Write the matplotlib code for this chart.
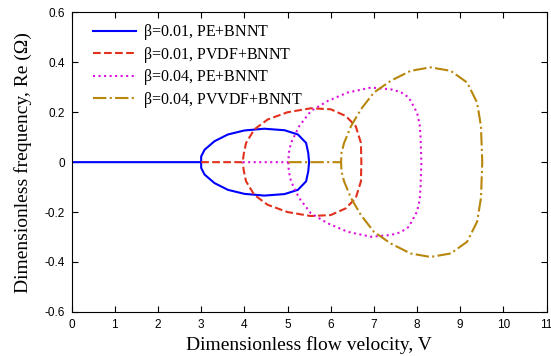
import numpy as np
import matplotlib
matplotlib.use('Agg')
import matplotlib.pyplot as plt

# upper branch of each loop (lower branch is the mirror image)
pe1_x = [3.0, 3.0, 3.08, 3.31, 3.62, 4.0, 4.46, 4.93, 5.24, 5.43, 5.48, 5.5]
pe1_y = [0.0, 0.023, 0.05, 0.084, 0.111, 0.127, 0.134, 0.128, 0.111, 0.077, 0.037, 0.0]

pvdf1_x = [3.96, 3.99, 4.04, 4.23, 4.54, 5.0, 5.54, 6.0, 6.35, 6.58, 6.7, 6.71]
pvdf1_y = [0.0, 0.037, 0.077, 0.131, 0.171, 0.2, 0.216, 0.212, 0.185, 0.144, 0.077, 0.0]

pe4_x = [5.02, 5.03, 5.08, 5.27, 5.54, 5.93, 6.39, 6.93, 7.39, 7.62, 7.81, 8.0, 8.06, 8.08, 8.1]
pe4_y = [0.0, 0.037, 0.077, 0.144, 0.205, 0.245, 0.279, 0.299, 0.292, 0.281, 0.259, 0.198, 0.151, 0.104, 0.0]

pvvdf4_x = [6.24, 6.25, 6.31, 6.47, 6.7, 7.0, 7.39, 7.85, 8.31, 8.78, 9.16, 9.39, 9.48, 9.51]
pvvdf4_y = [0.0, 0.037, 0.077, 0.144, 0.212, 0.279, 0.326, 0.366, 0.38, 0.366, 0.319, 0.239, 0.144, 0.0]

# where the zero-frequency part of each curve starts
zero_start = [0.0, 3.0, 3.96, 5.02]

labels = [r'$\beta$=0.01, PE+BNNT', r'$\beta$=0.01, PVDF+BNNT',
          r'$\beta$=0.04, PE+BNNT', r'$\beta$=0.04, PVVDF+BNNT']
colors = ['#0000ff', '#e2311d', '#dd11dd', '#b8860b']
styles = ['-', '--', ':', '-.']

plt.rcParams['font.family'] = 'Liberation Serif'
plt.rcParams['mathtext.fontset'] = 'custom'
plt.rcParams['mathtext.rm'] = 'Liberation Serif'
plt.rcParams['mathtext.it'] = 'Liberation Serif'

fig = plt.figure(figsize=(5.51, 3.56), dpi=100)
ax = fig.add_axes([0.13, 0.124, 0.862, 0.841])

series = [(pe1_x, pe1_y), (pvdf1_x, pvdf1_y), (pe4_x, pe4_y), (pvvdf4_x, pvvdf4_y)]
for i, (xs, ys) in enumerate(series):
    xs = np.array(xs)
    ys = np.array(ys)
    px = np.concatenate([[zero_start[i]], xs, xs[::-1]])
    py = np.concatenate([[0.0], ys, -ys[::-1]])
    ax.plot(px, py, styles[i], color=colors[i], lw=1.5, label=labels[i])

ax.set_xlim(0, 11)
ax.set_ylim(-0.6, 0.6)
ax.set_xticks(range(0, 12))
ax.set_yticks([-0.6, -0.4, -0.2, 0, 0.2, 0.4, 0.6])
ax.set_yticklabels(['-0.6', '-0.4', '-0.2', '0', '0.2', '0.4', '0.6'])
ax.tick_params(direction='in', top=True, right=True, length=4, labelsize=8.5, pad=5)
for lab in ax.get_xticklabels() + ax.get_yticklabels():
    lab.set_fontfamily('Liberation Sans')
for s in ax.spines.values():
    s.set_linewidth(0.8)

ax.set_xlabel('Dimensionless flow velocity, V', fontsize=14, labelpad=4)
ax.set_ylabel('Dimensionless frequency, Re (\u03a9)', fontsize=14, labelpad=9)

ax.legend(loc='upper left', bbox_to_anchor=(0.014, 1.015), frameon=False,
          fontsize=11.5, handlelength=2.7, handletextpad=0.45, labelspacing=0.15)

fig.savefig('out.png', dpi=100)
